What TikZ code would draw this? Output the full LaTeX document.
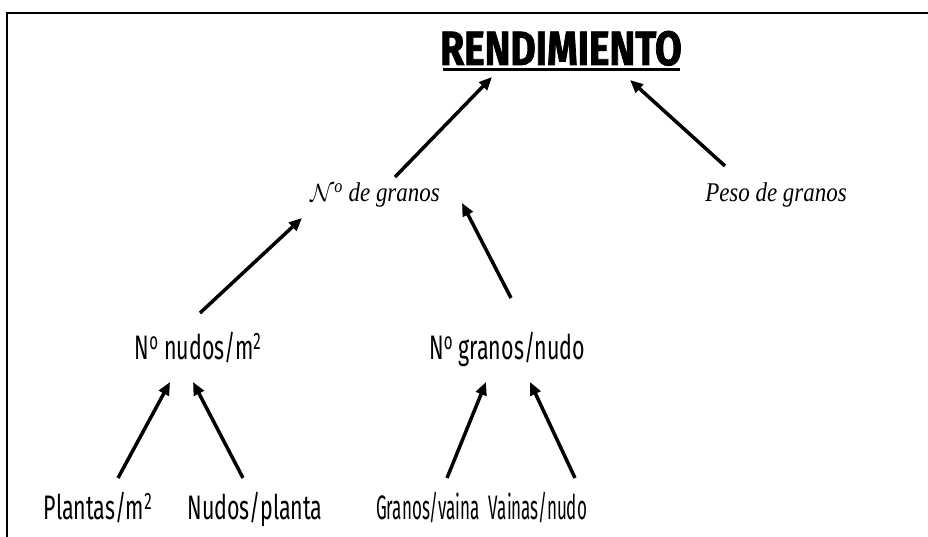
\documentclass[tikz,border=0pt]{standalone}
\usepackage{fontspec}
\newfontfamily\comicfont[FakeStretch=0.63]{Fira Sans}
\newfontfamily\comicnarrow[FakeStretch=0.5]{Fira Sans}
\newfontfamily\comicbold[FakeStretch=0.81,FakeBold=1.5]{Fira Sans}
\newfontfamily\corsiva[FakeStretch=0.85]{Liberation Serif}
\usetikzlibrary{arrows.meta}
\newcommand{\nro}{N\textsuperscript{o}}
\tikzset{
  comic/.style={font=\comicfont\fontsize{34}{36}\selectfont, inner sep=0pt, anchor=base},
  comicn/.style={font=\comicnarrow\fontsize{34}{36}\selectfont, inner sep=0pt, anchor=base},
  scrip/.style={font=\corsiva\itshape\fontsize{27}{29}\selectfont, inner sep=0pt, anchor=base},
  title/.style={font=\comicbold\bfseries\fontsize{48}{52}\selectfont, inner sep=0pt, anchor=base},
  arr/.style={line width=3.5pt, -{Triangle[length=13pt,width=11pt]}},
}
\begin{document}
\begin{tikzpicture}[x=1pt,y=-1pt]
\useasboundingbox (0,0) rectangle (928,537);
\draw[line width=2pt] (7,537) -- (7,13) -- (928,13);
\node[title] (rend) at (561,65) {RENDIMIENTO};
\draw[line width=3pt] (443,70) -- (680,70);
\node[scrip] (ng) at (375,202) {$\mathcal{N}$\textsuperscript{o} de granos};
\node[scrip] (pg) at (776,202) {Peso de granos};
\node[comic] (nn) at (198,359) {\nro{} nudos/m\textsuperscript{2}};
\node[comic] (gn) at (507,359) {\nro{} granos/nudo};
\node[comic] (pl) at (98,519) {Plantas/m\textsuperscript{2}};
\node[comic] (np) at (255,519) {Nudos/planta};
\node[comicn] (gv) at (428,519) {Granos/vaina};
\node[comicn] (vn) at (538,519) {Vainas/nudo};
\draw[arr] ([shift={(20,-25)}]ng.base) -- ([shift={(-69,12)}]rend.base);
\draw[arr] ([shift={(-51,-36)}]pg.base) -- ([shift={(69,15)}]rend.base);
\draw[arr] ([shift={(2,-46)}]nn.base) -- ([shift={(-73,16)}]ng.base);
\draw[arr] ([shift={(4,-61)}]gn.base) -- ([shift={(87,1)}]ng.base);
\draw[arr] ([shift={(20,-41)}]pl.base) -- ([shift={(-28,23)}]nn.base);
\draw[arr] ([shift={(-12,-41)}]np.base) -- ([shift={(-5,23)}]nn.base);
\draw[arr] ([shift={(19,-41)}]gv.base) -- ([shift={(-21,23)}]gn.base);
\draw[arr] ([shift={(37,-41)}]vn.base) -- ([shift={(23,23)}]gn.base);
\end{tikzpicture}
\end{document}
